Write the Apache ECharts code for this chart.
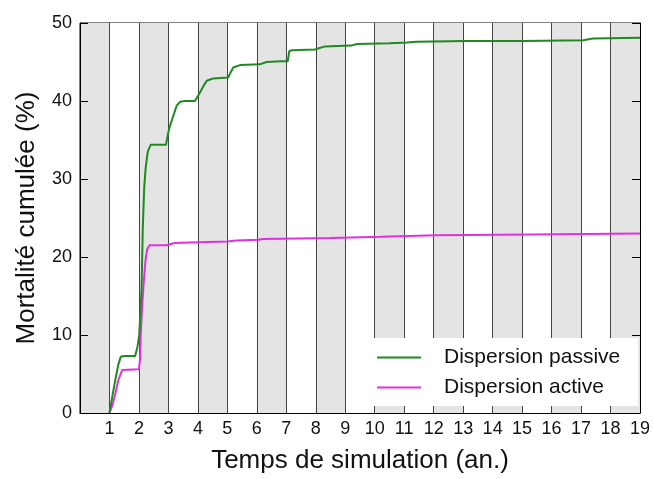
<!DOCTYPE html>
<html>
<head>
<meta charset="utf-8">
<script src="https://cdn.jsdelivr.net/npm/echarts@6/dist/echarts.min.js"></script>
<style>html,body{margin:0;padding:0;background:#fff}#c{width:654px;height:479px}</style>
</head>
<body>
<div id="c"></div>
<script>
// Data
const xTickLabels = ['1','2','3','4','5','6','7','8','9','10','11','12','13','14','15','16','17','18','19'];
const yTickLabels = ['0','10','20','30','40','50'];

const passiveX = [1.0,1.1,1.2,1.3,1.38,1.5,1.87,1.95,2.01,2.05,2.09,2.13,2.18,2.23,2.3,2.4,2.92,2.97,3.05,3.2,3.28,3.4,3.55,3.9,4.07,4.2,4.3,4.52,5.03,5.1,5.2,5.43,6.1,6.33,6.8,7.05,7.1,7.2,7.97,8.31,9.2,9.4,10.5,11.1,11.4,13.1,15.0,17.07,17.4,19.0];
const passiveY = [0,2.2,4.3,6.2,7.2,7.3,7.3,8.5,10,13,16,23.7,29,31.5,33.5,34.4,34.4,35.5,36.8,38.5,39.4,39.9,40.0,40.0,41.1,42.0,42.6,42.9,43.0,43.6,44.3,44.6,44.7,45.0,45.1,45.1,46.4,46.5,46.6,47.0,47.1,47.3,47.4,47.5,47.6,47.7,47.7,47.8,48.0,48.1];

const activeX = [1.0,1.1,1.2,1.3,1.43,2.0,2.04,2.06,2.1,2.15,2.22,2.28,2.36,2.95,3.2,4.0,5.0,5.3,6.05,6.2,8.5,10.2,12.1,15.3,19.0];
const activeY = [0,1.0,2.5,4.2,5.5,5.6,7,10,13,16.1,19.5,21.0,21.5,21.5,21.8,21.9,22.0,22.1,22.2,22.3,22.45,22.6,22.8,22.9,23.0];

const seriesNames = ['Dispersion passive','Dispersion active'];
const xTitle = 'Temps de simulation (an.)';
const yTitle = 'Mortalité cumulée (%)';

const zip = (xs, ys) => xs.map((x, i) => [x, ys[i]]);
const FONT = 'Liberation Sans, Arial, sans-serif';

const chart = echarts.init(document.getElementById('c'), null, {renderer: 'canvas'});
chart.setOption({
  animation: false,
  backgroundColor: '#fff',
  grid: {left: 80, right: 14, top: 23, bottom: 62, show: true, borderColor: '#000', borderWidth: 1, backgroundColor: 'transparent'},
  xAxis: {
    type: 'value', min: 0, max: 19, interval: 1,
    name: xTitle, nameLocation: 'middle', nameGap: 35,
    nameTextStyle: {fontFamily: FONT, fontSize: 26, color: '#111'},
    axisLine: {show: true, lineStyle: {color: '#000', width: 1}},
    axisTick: {show: false},
    axisLabel: {
      fontFamily: FONT, fontSize: 18, color: '#111', margin: 7,
      showMinLabel: true, showMaxLabel: true,
      formatter: v => (v >= 1 && v <= 19) ? xTickLabels[Math.round(v) - 1] : ''
    },
    splitLine: {show: true, lineStyle: {color: '#444', width: 1}},
    splitArea: {show: true, areaStyle: {color: ['#e4e4e4', '#ffffff']}}
  },
  yAxis: [{
    type: 'value', min: 0, max: 50, interval: 10, position: 'left',
    name: yTitle, nameLocation: 'middle', nameGap: 40,
    nameTextStyle: {fontFamily: FONT, fontSize: 26, color: '#111'},
    axisLine: {show: true, lineStyle: {color: '#000', width: 1}},
    axisTick: {show: true, inside: true, length: 8, lineStyle: {color: '#000'}},
    axisLabel: {fontFamily: FONT, fontSize: 18, color: '#111', margin: 8,
      formatter: v => yTickLabels[Math.round(v / 10)]},
    splitLine: {show: false}
  }, {
    type: 'value', min: 0, max: 50, interval: 10, position: 'right',
    axisLine: {show: true, lineStyle: {color: '#000', width: 1}},
    axisTick: {show: true, inside: true, length: 8, lineStyle: {color: '#000'}},
    axisLabel: {show: false},
    splitLine: {show: false}
  }],
  legend: {
    show: true, orient: 'vertical', left: 365, top: 338,
    backgroundColor: '#fff', padding: [9, 18, 8, 12], itemGap: 9,
    icon: 'rect', itemWidth: 44, itemHeight: 2,
    textStyle: {fontFamily: FONT, fontSize: 21, color: '#111', padding: [0, 0, 0, 18]},
    data: seriesNames
  },
  series: [{
    name: seriesNames[0], type: 'line', data: zip(passiveX, passiveY),
    showSymbol: false, smooth: false, z: 5,
    lineStyle: {color: '#1f8a1f', width: 2}, itemStyle: {color: '#1f8a1f'}
  }, {
    name: seriesNames[1], type: 'line', data: zip(activeX, activeY),
    showSymbol: false, smooth: false, z: 4,
    lineStyle: {color: '#e030e0', width: 2}, itemStyle: {color: '#e030e0'}
  }]
});
</script>
</body>
</html>
